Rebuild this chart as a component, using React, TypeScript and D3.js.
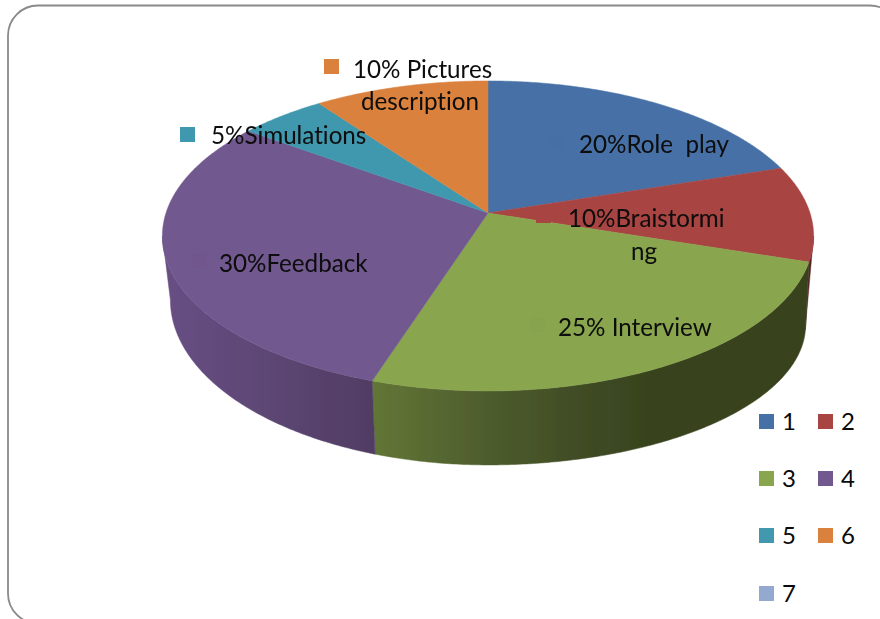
import React from "react";
import * as d3 from "d3";

const legendKeys = ["1", "2", "3", "4", "5", "6", "7"];
const shares = [20, 10, 25, 30, 5, 10];
const sliceColors = ["#4671a6", "#a84442", "#89a54e", "#71588f", "#4198af", "#d9813d", "#93a9cf"];
const sliceLabels = [
  ["20%Role  play"],
  ["10%Braistormi", "ng"],
  ["25% Interview"],
  ["30%Feedback"],
  ["5%Simulations"],
  ["10% Pictures", "description"],
];

// layout
const W = 880;
const H = 619;
const apex = { x: 488, y: 213 };
const persp = -0.148;
const Rx = 322;
const Ry = 151.6;
const topEllipse = { cx: 488, cy: 236, rx: 326, ry: 155 };
const baseRight = { cx: 488, cy: 325, rx: 318, ry: 140 };
const baseLeft = { cx: 488, cy: 300, rx: 318, ry: 165 };
const labelLayout = [
  { marker: [550, 135], lines: [[579, 152.5]], faint: true },
  { marker: [536, 208], lines: [[568, 226.5], [631, 259.5]], faint: false },
  { marker: [530, 317], lines: [[558, 335.5]], faint: true },
  { marker: [192, 253], lines: [[219, 271.5]], faint: true },
  { marker: [180, 127], lines: [[211, 143.5]], faint: false },
  { marker: [324, 59], lines: [[353, 77.5], [361, 109.5]], faint: false },
];
const legendX = [759, 818];
const legendY = [414, 471, 528, 586];
const deg = Math.PI / 180;
const wallFrom = 98.5 * deg;
const wallTo = 261.5 * deg;
const greenBaseStart = 100.5 * deg;

function project(theta: number): [number, number] {
  const u = Math.sin(theta);
  const v = -Math.cos(theta);
  const w = 1 + persp * v;
  return [apex.x + (Rx * u) / w, apex.y + (Ry * v) / w];
}
function projectBase(theta: number): [number, number] {
  const [x, y] = project(theta);
  const base = x < topEllipse.cx ? baseLeft : baseRight;
  return [
    base.cx + ((x - topEllipse.cx) * base.rx) / topEllipse.rx,
    base.cy + ((y - topEllipse.cy) * base.ry) / topEllipse.ry,
  ];
}
function samples(a: number, b: number): number[] {
  const n = Math.max(2, Math.ceil((b - a) / 0.01));
  return d3.range(n + 1).map((i) => a + ((b - a) * i) / n);
}

const line = d3.line();

export default function App() {
  const pie = d3.pie<number>().sort(null)(shares);

  const walls = pie
    .map((s, i) => {
      const a = Math.max(s.startAngle, wallFrom);
      const b = Math.min(s.endAngle, wallTo);
      if (b <= a) return null;
      const ts = samples(a, b);
      // the red/green seam leans toward the silhouette in the reference
      const baseA = i === 2 ? greenBaseStart : a;
      const baseB = i === 1 ? greenBaseStart : b;
      const bs = samples(baseA, baseB).reverse();
      const pts = [...ts.map(project), ...bs.map(projectBase)];
      return { i, d: line(pts as [number, number][]) + "Z" };
    })
    .filter(Boolean) as { i: number; d: string }[];

  const wallFill = (i: number) =>
    i === 1 ? "#5a2426" : i === 2 ? "url(#wallGreen)" : i === 3 ? "url(#wallPurple)" : sliceColors[i];

  return (
    <svg
      width={W}
      height={H}
      viewBox={`0 0 ${W} ${H}`}
      style={{ position: "fixed", left: 0, top: 0, display: "block", background: "#fff" }}
      fontFamily="Lato, 'Open Sans', sans-serif"
    >
      <defs>
        <linearGradient id="wallGreen" gradientUnits="userSpaceOnUse" x1={373} x2={650} y1={0} y2={0}>
          <stop offset="0" stopColor="#627636" />
          <stop offset="0.45" stopColor="#4c5a2c" />
          <stop offset="0.8" stopColor="#3e4a23" />
          <stop offset="1" stopColor="#38431d" />
        </linearGradient>
        <linearGradient id="wallPurple" gradientUnits="userSpaceOnUse" x1={165} x2={375} y1={0} y2={0}>
          <stop offset="0" stopColor="#684f84" />
          <stop offset="1" stopColor="#503d63" />
        </linearGradient>
        <filter id="soft" x="-5%" y="-5%" width="110%" height="110%">
          <feGaussianBlur stdDeviation="0.45" />
        </filter>
      </defs>
      <rect x={8} y={5.5} width={892} height={618} rx={30} fill="#fff" stroke="#8a8a8a" strokeWidth={1.8} />
      <g filter="url(#soft)">
        {walls.map((w) => (
          <path key={w.i} d={w.d} fill={wallFill(w.i)} stroke={wallFill(w.i)} strokeWidth={0.5} />
        ))}
        {pie.map((s, i) => {
          const pts = [[apex.x, apex.y], ...samples(s.startAngle, s.endAngle).map(project)];
          return (
            <path
              key={i}
              d={line(pts as [number, number][]) + "Z"}
              fill={sliceColors[i]}
              stroke={sliceColors[i]}
              strokeWidth={0.5}
            />
          );
        })}
        {labelLayout.map((l, i) => (
          <rect
            key={i}
            x={l.marker[0]}
            y={l.marker[1]}
            width={15}
            height={15}
            fill={sliceColors[i]}
            stroke="none"
            style={l.faint ? { filter: "brightness(0.985)" } : undefined}
          />
        ))}
      </g>
      <g
        fontSize={24.2}
        fill="#0a0a0a"
        filter="url(#soft)"
        style={{ whiteSpace: "pre", fontVariantLigatures: "none" }}
      >
        {sliceLabels.map((lines, i) =>
          lines.map((t, j) => (
            <text key={`${i}-${j}`} x={labelLayout[i].lines[j][0]} y={labelLayout[i].lines[j][1]} xmlSpace="preserve">
              {t}
            </text>
          ))
        )}
      </g>
      <g>
        {legendKeys.map((k, i) => {
          const x = legendX[i % 2];
          const y = legendY[Math.floor(i / 2)];
          return (
            <g key={k}>
              <rect x={x} y={y} width={15} height={15} fill={sliceColors[i]} />
              <text x={x + 23} y={y + 16} fontSize={24} fill="#0a0a0a">
                {k}
              </text>
            </g>
          );
        })}
      </g>
    </svg>
  );
}
